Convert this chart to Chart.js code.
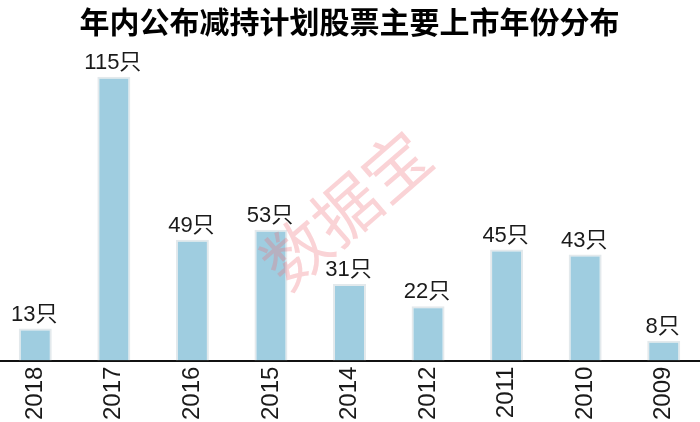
<!DOCTYPE html>
<html><head><meta charset="utf-8">
<script src="https://cdn.jsdelivr.net/npm/chart.js@4/dist/chart.umd.min.js"></script>
<style>
html,body{margin:0;padding:0;background:#fff;overflow:hidden;}
#wrap{position:absolute;left:-4px;top:0;width:707px;height:426px;}
</style></head>
<body>
<div id="wrap"><canvas id="c"></canvas></div>
<script>
const titleText = '年内公布减持计划股票主要上市年份分布';
const years = ['2018','2017','2016','2015','2014','2012','2011','2010','2009'];
const counts = [13,115,49,53,31,22,45,43,8];
const unit = '只';
const watermark = '数据宝';

const labelPlugin = {
  id:'valueLabels',
  afterDatasetsDraw(chart){
    const ctx = chart.ctx;
    const meta = chart.getDatasetMeta(0);
    ctx.save();
    ctx.font = '22px "Liberation Sans", "Noto Sans CJK SC", sans-serif';
    ctx.fillStyle = '#1a1a1a';
    ctx.textAlign = 'center';
    ctx.textBaseline = 'bottom';
    meta.data.forEach((bar,i)=>{
      ctx.fillText(counts[i] + unit, bar.x - 1, bar.y - 3);
    });
    ctx.restore();
  }
};
const watermarkPlugin = {
  id:'watermark',
  afterDraw(chart){
    const ctx = chart.ctx;
    ctx.save();
    ctx.translate(350, 209);
    ctx.rotate(-41*Math.PI/180);
    ctx.font = '66px "Noto Sans CJK SC", sans-serif';
    ctx.fillStyle = 'rgba(240,110,120,0.3)';
    ctx.textAlign = 'center';
    ctx.textBaseline = 'middle';
    ctx.fillText(watermark, 0, 0);
    ctx.restore();
  }
};

new Chart(document.getElementById('c'), {
  type:'bar',
  data:{
    labels: years,
    datasets:[{
      data: counts,
      backgroundColor:'#9fcde0',
      borderColor:'#e3e9ec',
      borderWidth:{left:2,right:2,top:2,bottom:0},
      categoryPercentage:1,
      barPercentage:0.42
    }]
  },
  options:{
    responsive:true,
    maintainAspectRatio:false,
    animation:false,
    layout:{padding:{left:0,right:0,top:0,bottom:0}},
    plugins:{
      legend:{display:false},
      tooltip:{enabled:false},
      title:{
        display:true,
        text:titleText,
        color:'#000',
        font:{family:'"Noto Sans CJK SC", sans-serif', size:30, weight:'bold'},
        padding:{top:4,bottom:12}
      }
    },
    scales:{
      x:{
        grid:{display:false, drawTicks:false},
        border:{display:true, color:'#111', width:2},
        ticks:{
          minRotation:90, maxRotation:90,
          padding:6,
          color:'#1a1a1a',
          font:{family:'"Liberation Sans", sans-serif', size:24}
        }
      },
      y:{display:false, min:0, max:125}
    }
  },
  plugins:[labelPlugin, watermarkPlugin]
});
</script>
</body></html>
